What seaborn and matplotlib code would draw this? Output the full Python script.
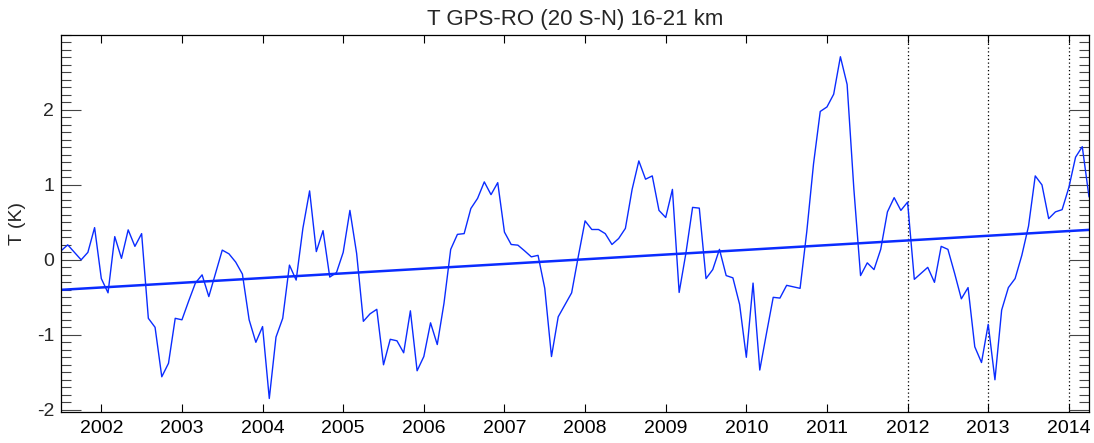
import numpy as np
import pandas as pd
import matplotlib
matplotlib.use("Agg")
import matplotlib.pyplot as plt
import seaborn as sns
from matplotlib.ticker import MultipleLocator

# ---- data (monthly anomalies, K), series starts July 2001 ----
start_year = 2001
start_month = 7
t_2001 = [0.12, 0.20, 0.10, 0.00, 0.10, 0.43]
t_2002 = [-0.25, -0.44, 0.31, 0.02, 0.40, 0.18, 0.35, -0.78, -0.90, -1.56, -1.38, -0.78]
t_2003 = [-0.80, -0.55, -0.31, -0.20, -0.49, -0.18, 0.13, 0.08, -0.03, -0.19, -0.80, -1.10]
t_2004 = [-0.89, -1.85, -1.03, -0.78, -0.07, -0.27, 0.42, 0.92, 0.11, 0.39, -0.23, -0.17]
t_2005 = [0.10, 0.66, 0.085, -0.82, -0.72, -0.66, -1.40, -1.06, -1.08, -1.24, -0.68, -1.48]
t_2006 = [-1.29, -0.84, -1.13, -0.58, 0.14, 0.34, 0.35, 0.685, 0.82, 1.04, 0.87, 1.03]
t_2007 = [0.37, 0.205, 0.196, 0.12, 0.04, 0.06, -0.38, -1.29, -0.76, -0.60, -0.44, 0.05]
t_2008 = [0.52, 0.405, 0.405, 0.35, 0.205, 0.285, 0.42, 0.94, 1.32, 1.076, 1.12, 0.66]
t_2009 = [0.565, 0.94, -0.435, 0.085, 0.70, 0.69, -0.25, -0.13, 0.14, -0.21, -0.24, -0.595]
t_2010 = [-1.30, -0.31, -1.47, -0.98, -0.50, -0.51, -0.34, -0.36, -0.38, 0.38, 1.28, 1.98]
t_2011 = [2.04, 2.21, 2.71, 2.34, 0.95, -0.21, -0.04, -0.13, 0.14, 0.64, 0.83, 0.66]
t_2012 = [0.77, -0.26, -0.18, -0.10, -0.30, 0.18, 0.14, -0.18, -0.52, -0.37, -1.16, -1.37]
t_2013 = [-0.86, -1.60, -0.67, -0.37, -0.25, 0.06, 0.45, 1.12, 1.00, 0.55, 0.64, 0.67]
t_2014 = [0.965, 1.37, 1.51, 0.84]

# linear trend (end points)
trend_time = [2001.5, 2014.25]
trend_vals = [-0.40, 0.40]

# reference years marked by dotted lines
ref_years = [2012, 2013, 2014]

year_ticks = list(range(2002, 2015))
y_ticks = [-2, -1, 0, 1, 2]

title = "T GPS-RO (20 S-N) 16-21 km"
ylabel = "T (K)"

# ---- build frame ----
vals = (t_2001 + t_2002 + t_2003 + t_2004 + t_2005 + t_2006 + t_2007 +
        t_2008 + t_2009 + t_2010 + t_2011 + t_2012 + t_2013 + t_2014)
months = np.arange(len(vals))
time = start_year + (start_month - 1) / 12.0 + months / 12.0
df = pd.DataFrame({"time": time, "T": vals})
trend_df = pd.DataFrame({"time": trend_time, "T": trend_vals})

# ---- style ----
sns.set_style("ticks")
plt.rcParams["font.family"] = ["Liberation Sans", "DejaVu Sans"]
plt.rcParams["axes.unicode_minus"] = False

blue = "#0a2cff"

fig = plt.figure(figsize=(10.94, 4.43), dpi=100)
ax = fig.add_axes([61 / 1094, 31 / 443, 1028 / 1094, 377 / 443])

sns.lineplot(data=df, x="time", y="T", ax=ax, color=blue, linewidth=1.0,
             estimator=None, sort=False)
sns.lineplot(data=trend_df, x="time", y="T", ax=ax, color=blue, linewidth=1.8,
             estimator=None, sort=False)

for yr in ref_years:
    ax.axvline(yr, color="black", linestyle=(0, (1, 2.0)), linewidth=0.9, zorder=1)

ax.set_xlim(trend_time[0], trend_time[1])
ax.set_ylim(-2.03, 3.0)

ax.set_xticks(year_ticks)
ax.set_xticklabels([str(y) for y in year_ticks])
ax.set_yticks(y_ticks)
ax.set_yticklabels([str(v) for v in y_ticks])
ax.yaxis.set_minor_locator(MultipleLocator(0.1))

ax.tick_params(axis="x", which="major", direction="in", length=6, width=0.8,
               top=True, bottom=True, labelsize=14, pad=6, colors="black")
ax.tick_params(axis="y", which="major", direction="in", length=14.5, width=0.8,
               left=True, right=True, labelsize=14, pad=5, color="#444444")
ax.tick_params(axis="y", which="minor", direction="in", length=7, width=0.8,
               left=True, right=True, color="#444444")
ax.tick_params(axis="x", which="minor", bottom=False, top=False)

for s in ax.spines.values():
    s.set_visible(True)
    s.set_linewidth(0.9)
    s.set_color("black")

ax.set_title(title, fontsize=16, pad=7)
ax.set_xlabel("")
ax.set_ylabel(ylabel, fontsize=14, labelpad=8)

fig.savefig("out.png", dpi=100)
